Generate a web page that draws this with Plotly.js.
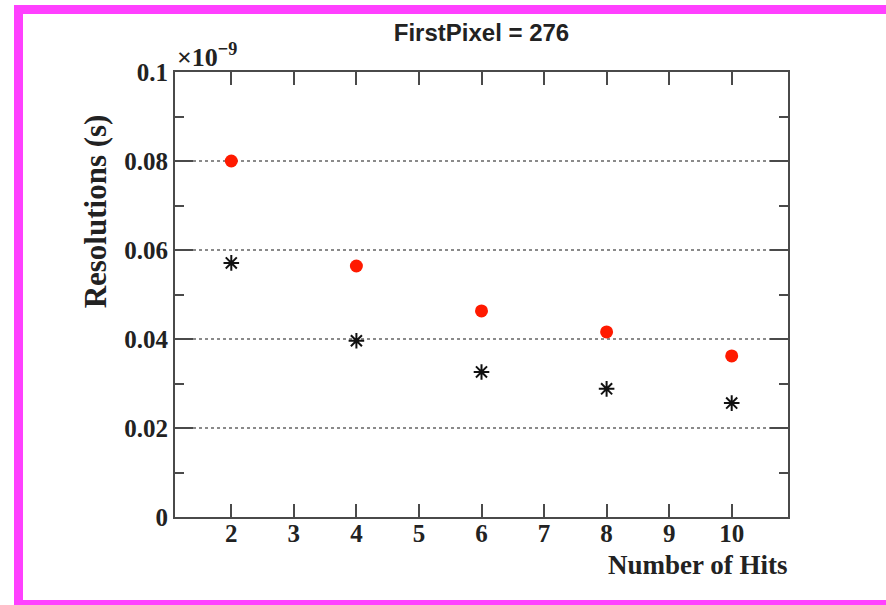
<!DOCTYPE html>
<html>
<head>
<meta charset="utf-8">
<script src="https://cdn.plot.ly/plotly-3.0.1.min.js"></script>
<style>
  html, body { margin: 0; padding: 0; background: #ffffff; }
  #wrap { position: relative; width: 886px; height: 605px; overflow: hidden; }
  #frame {
    position: absolute; left: 14px; top: 5px; width: 900px; height: 586px;
    border: 9px solid #ff40ff; border-right: none; pointer-events: none; z-index: 5;
  }
  #chart { position: absolute; left: 0; top: 0; width: 886px; height: 605px; }
</style>
</head>
<body>
<div id="wrap">
  <div id="chart"></div>
  <div id="frame"></div>
</div>
<script>
// Number of hits used in the fit
const hits = [2, 4, 6, 8, 10];
// Time resolutions, in units of 1e-9 s
const resolutionRed = [0.0800, 0.0564, 0.0463, 0.0416, 0.0362];
const resolutionBlack = [0.0571, 0.0396, 0.0326, 0.0288, 0.0256];

const yTickVals = [0, 0.02, 0.04, 0.06, 0.08, 0.1];
const yTickText = ['0', '0.02', '0.04', '0.06', '0.08', '0.1'];
const xTickVals = [2, 3, 4, 5, 6, 7, 8, 9, 10];

const axisColor = '#4a4a4a';
const serifFamily = 'Liberation Serif, Times New Roman, serif';
const tickFont = { family: serifFamily, size: 25, color: '#222', weight: 700 };

const traces = [
  {
    x: hits, y: resolutionRed, type: 'scatter', mode: 'markers', name: 'red',
    marker: { symbol: 'circle', size: 13, color: '#ff1a00', line: { width: 0 } },
    hoverinfo: 'x+y'
  },
  {
    x: hits, y: resolutionBlack, type: 'scatter', mode: 'markers', name: 'black',
    marker: { symbol: 'asterisk', size: 13, color: '#111', line: { width: 2, color: '#111' } },
    hoverinfo: 'x+y'
  }
];

const layout = {
  width: 886, height: 605,
  margin: { l: 175, r: 98, t: 72, b: 88 },
  paper_bgcolor: '#ffffff', plot_bgcolor: '#ffffff',
  showlegend: false,
  title: {
    text: 'FirstPixel = 276',
    font: { family: 'Liberation Sans, Arial, sans-serif', size: 24, color: '#222', weight: 700 },
    x: 0.5, xref: 'paper', xanchor: 'center',
    y: 1 - 33 / 605, yref: 'container', yanchor: 'middle'
  },
  xaxis: {
    range: [1.1, 10.9],
    tickmode: 'array', tickvals: xTickVals, ticktext: xTickVals.map(String),
    ticks: 'inside', ticklen: 13, tickwidth: 2, tickcolor: axisColor,
    ticklabelstandoff: -7,
    showline: true, linecolor: axisColor, linewidth: 2, mirror: 'ticks',
    showgrid: false, zeroline: false,
    tickfont: tickFont
  },
  yaxis: {
    range: [0, 0.1],
    tickmode: 'array', tickvals: yTickVals, ticktext: yTickText,
    ticks: 'inside', ticklen: 18, tickwidth: 2, tickcolor: axisColor,
    minor: { tickmode: 'linear', tick0: 0, dtick: 0.01, ticks: 'inside', ticklen: 9, tickwidth: 2, tickcolor: axisColor, showgrid: false },
    showline: true, linecolor: axisColor, linewidth: 2, mirror: 'ticks',
    showgrid: true, gridcolor: '#8a8a8a', gridwidth: 1.5, griddash: 'dot',
    zeroline: false,
    tickfont: tickFont
  },
  annotations: [
    {
      text: 'Resolutions (s)', textangle: -90,
      xref: 'paper', yref: 'paper', x: -0.13, y: 0.91,
      xanchor: 'center', yanchor: 'top', showarrow: false,
      font: { family: serifFamily, size: 31, color: '#222', weight: 700 }
    },
    {
      text: 'Number of Hits',
      xref: 'paper', yref: 'paper', x: 1.003, y: -0.07,
      xanchor: 'right', yanchor: 'top', showarrow: false,
      font: { family: serifFamily, size: 27, color: '#222', weight: 700 }
    },
    {
      text: '×10<sup>−9</sup>',
      xref: 'paper', yref: 'paper', x: 0, y: 0.995,
      xanchor: 'left', yanchor: 'bottom', showarrow: false,
      font: { family: serifFamily, size: 26, color: '#222', weight: 700 }
    }
  ]
};

Plotly.newPlot('chart', traces, layout, { displayModeBar: false, staticPlot: true });
</script>
</body>
</html>
